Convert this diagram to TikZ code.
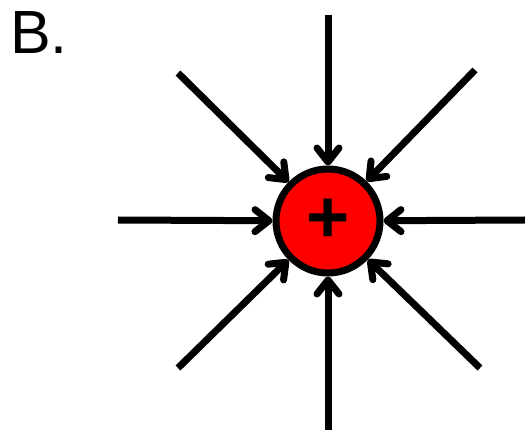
\documentclass[tikz,border=0pt]{standalone}
\usepackage{fontspec}
\setmainfont{Liberation Sans}
\usetikzlibrary{arrows.meta}

\begin{document}
\begin{tikzpicture}[x=1pt, y=-1pt, every node/.style={font=\small}]
  \useasboundingbox (0,0) rectangle (525,430);
  % Carga positiva (centro)
  \node[draw, circle, line width=7pt, fill=red, minimum size=104pt, inner sep=0pt,
        font=\bfseries\fontsize{74}{74}\selectfont] (q) at (328,221) {+};
  % Extremos libres de las flechas
  \foreach \i/\x/\y in {1/328/15, 2/475/70, 3/525/220, 4/480/368,
                        5/328/430, 6/178/368, 7/118/220, 8/178/73} {
    \coordinate (s\i) at (\x,\y);
  }
  % Lineas de campo (hacia la carga)
  \foreach \i in {1,...,8} {
    \draw[line width=7pt, -{Straight Barb[length=14pt, width=22pt, round]}] (s\i) -- (q);
  }
  % Etiqueta
  \node[anchor=base west, inner sep=0pt, font=\fontsize{61}{61}\selectfont] (lbl) at (10,54) {B.};
\end{tikzpicture}
\end{document}
